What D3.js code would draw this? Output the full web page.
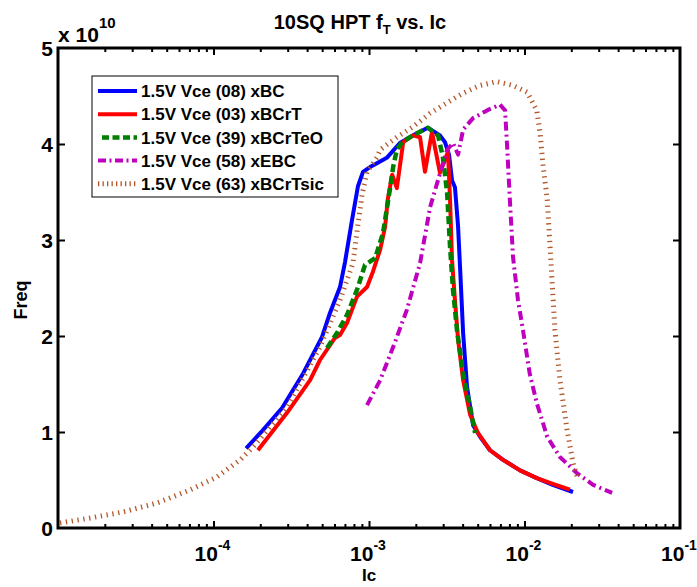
<!DOCTYPE html>
<html><head><meta charset="utf-8">
<script src="https://cdn.jsdelivr.net/npm/d3@7"></script>
<style>
body{margin:0;background:#fff}
svg text{font-family:"Liberation Sans",Arial,Helvetica,sans-serif;font-weight:bold;fill:#000}
</style>
</head><body>
<svg id="chart" width="697" height="587"></svg>
<script>
// ---- data (Ic in A, freq in units of 1e10 Hz) ----
const titleText = "10SQ HPT f";
const legendLabels = ["1.5V Vce (08) xBC","1.5V Vce (03) xBCrT","1.5V Vce (39) xBCrTeO","1.5V Vce (58) xEBC","1.5V Vce (63) xBCrTsic"];
const yTicks = [0,1,2,3,4,5];
const xTickExps = [-4,-3,-2,-1];

const icBC = [1.62e-4,2.08e-4,2.76e-4,3.77e-4,4.99e-4,5.61e-4,6.51e-4,7.01e-4,7.78e-4,8.49e-4,9.15e-4,1.015e-3,1.125e-3,1.31e-3,1.58e-3,1.92e-3,2.39e-3,2.86e-3,3.08e-3,3.27e-3,3.42e-3,3.57e-3,3.74e-3,3.85e-3,4.03e-3,4.27e-3,4.67e-3,5.18e-3,6.0e-3,7.28e-3,9.36e-3,1.2e-2,1.52e-2,2.05e-2];
const fBC  = [0.83,1.02,1.25,1.61,1.99,2.24,2.51,2.77,3.21,3.56,3.71,3.76,3.80,3.86,4.01,4.09,4.17,4.09,4.02,3.89,3.62,3.55,3.14,2.72,2.03,1.47,1.07,0.95,0.81,0.71,0.60,0.52,0.45,0.375];

const icBCrT = [1.93e-4,2.97e-4,4.18e-4,4.84e-4,6.04e-4,6.51e-4,7.22e-4,8.37e-4,9.71e-4,1.06e-3,1.18e-3,1.27e-3,1.32e-3,1.41e-3,1.51e-3,1.66e-3,1.92e-3,2.13e-3,2.29e-3,2.54e-3,2.86e-3,3.22e-3,3.32e-3,3.42e-3,3.57e-3,3.74e-3,4.03e-3,4.47e-3,5.02e-3,6.0e-3,7.28e-3,9.36e-3,1.2e-2,1.52e-2,1.96e-2];
const fBCrT  = [0.81,1.20,1.54,1.75,1.98,2.01,2.135,2.41,2.51,2.67,2.90,3.14,3.42,3.68,3.54,4.02,4.09,4.07,3.71,4.125,3.70,3.92,3.42,2.79,2.375,1.96,1.54,1.18,0.99,0.81,0.71,0.60,0.52,0.46,0.40];

const icBCrTeO = [5.37e-4,6.22e-4,7.22e-4,8.37e-4,9.42e-4,1.094e-3,1.23e-3,1.36e-3,1.43e-3,1.51e-3,1.63e-3,1.92e-3,2.39e-3,2.78e-3,2.99e-3,3.18e-3,3.32e-3,3.47e-3,3.68e-3,4.03e-3,4.47e-3,4.81e-3];
const fBCrTeO  = [1.875,2.03,2.22,2.48,2.74,2.81,3.07,3.52,3.76,3.94,4.02,4.09,4.17,4.09,3.86,3.49,2.93,2.48,2.06,1.61,1.26,0.99];

const icEBC = [9.71e-4,1.18e-3,1.43e-3,1.75e-3,2.13e-3,2.47e-3,2.74e-3,3.18e-3,3.47e-3,3.74e-3,4.03e-3,4.67e-3,5.74e-3,6.95e-3,7.5e-3,7.71e-3,8.07e-3,8.44e-3,9.08e-3,9.78e-3,1.08e-2,1.2e-2,1.4e-2,1.69e-2,2.18e-2,2.76e-2,3.66e-2];
const fEBC  = [1.28,1.54,1.885,2.27,2.76,3.34,3.59,3.94,4.01,3.89,4.15,4.27,4.35,4.41,4.35,4.01,3.39,2.82,2.375,2.06,1.61,1.30,0.95,0.74,0.57,0.45,0.365];

const icBCrTsic = [1.03e-5,1.61e-5,2.62e-5,4.33e-5,7.06e-5,1.05e-4,1.48e-4,1.8e-4,2.97e-4,4.84e-4,6.51e-4,7.89e-4,8.49e-4,9.02e-4,9.71e-4,1.125e-3,1.18e-3,1.51e-3,1.92e-3,2.47e-3,3.18e-3,4.03e-3,5.18e-3,6.65e-3,8.44e-3,1.04e-2,1.2e-2,1.26e-2,1.32e-2,1.4e-2,1.46e-2,1.57e-2,1.69e-2,1.88e-2,2.05e-2,2.21e-2];
const fBCrTsic  = [0.052,0.104,0.167,0.26,0.396,0.531,0.708,0.844,1.26,1.885,2.375,2.76,3.16,3.47,3.71,3.86,3.94,4.07,4.18,4.32,4.43,4.53,4.61,4.65,4.61,4.54,4.35,4.11,3.76,3.42,2.93,2.06,1.54,1.02,0.68,0.50];

// ---- layout / style ----
const X0 = 58, X1 = 680, Y0 = 48, Y1 = 528;
const svg = d3.select("#chart");
const x = d3.scaleLog().domain([1e-5, 1e-1]).range([X0, X1]);
const y = d3.scaleLinear().domain([0, 5]).range([Y1, Y0]);

const styles = [
  {c:"#0000ff", w:4, dash:null, ldash:null},
  {c:"#ff0000", w:4, dash:null, ldash:null},
  {c:"#008000", w:4.5, dash:"8,4", ldash:"7,3.5"},
  {c:"#bf00bf", w:4, dash:"9,4,2,4", ldash:"8,3.5,2,3.5"},
  {c:"#b3572a", w:5, dash:"1.3,4.6", ldash:"1.3,3.2"}
];
const series = [
  d3.zip(icBC, fBC), d3.zip(icBCrT, fBCrT), d3.zip(icBCrTeO, fBCrTeO),
  d3.zip(icEBC, fEBC), d3.zip(icBCrTsic, fBCrTsic)
];

svg.append("defs").append("clipPath").attr("id","clip")
  .append("rect").attr("x",X0).attr("y",Y0).attr("width",X1-X0).attr("height",Y1-Y0);

const line = d3.line().x(d => x(d[0])).y(d => y(d[1]));
const plot = svg.append("g").attr("clip-path","url(#clip)");
series.forEach((s,i) => {
  const st = styles[i];
  plot.append("path").datum(s).attr("d", line)
    .attr("fill","none").attr("stroke", st.c).attr("stroke-width", st.w)
    .attr("stroke-linejoin","round")
    .attr("stroke-dasharray", st.dash);
});

// ---- axes (inward ticks, all four sides) ----
const majorX = xTickExps.map(e => Math.pow(10, e)).filter(v => v < 1e-1);
const minorX = [];
[-5,-4,-3,-2].forEach(e => { for (let k = 2; k <= 9; k++) minorX.push(k * Math.pow(10, e)); });

function styleAxis(g){ g.select(".domain").remove(); g.selectAll("line").attr("stroke","#000").attr("stroke-width",2); }

svg.append("g").attr("transform",`translate(0,${Y1})`)
  .call(d3.axisBottom(x).tickValues(majorX).tickSize(-7).tickFormat("")).call(styleAxis);
svg.append("g").attr("transform",`translate(0,${Y1})`)
  .call(d3.axisBottom(x).tickValues(minorX).tickSize(-4).tickFormat("")).call(styleAxis);
svg.append("g").attr("transform",`translate(0,${Y0})`)
  .call(d3.axisTop(x).tickValues(majorX).tickSize(-7).tickFormat("")).call(styleAxis);
svg.append("g").attr("transform",`translate(0,${Y0})`)
  .call(d3.axisTop(x).tickValues(minorX).tickSize(-4).tickFormat("")).call(styleAxis);
svg.append("g").attr("transform",`translate(${X0},0)`)
  .call(d3.axisLeft(y).tickValues(yTicks.slice(1,-1)).tickSize(-7).tickFormat("")).call(styleAxis);
svg.append("g").attr("transform",`translate(${X1},0)`)
  .call(d3.axisRight(y).tickValues(yTicks.slice(1,-1)).tickSize(-7).tickFormat("")).call(styleAxis);

svg.append("rect").attr("x",X0).attr("y",Y0).attr("width",X1-X0).attr("height",Y1-Y0)
  .attr("fill","none").attr("stroke","#000").attr("stroke-width",3);

// y tick labels
svg.append("g").selectAll("text").data(yTicks).join("text")
  .attr("x", X0 - 5).attr("y", d => y(d)).attr("dy","0.36em")
  .attr("text-anchor","end").attr("font-size",21).text(d => d);

// x tick labels: 10^e
const xl = svg.append("g").selectAll("text").data(xTickExps).join("text")
  .attr("x", d => x(Math.pow(10,d)) - 1).attr("y", 561)
  .attr("text-anchor","middle").attr("font-size",21);
xl.append("tspan").text("10");
xl.append("tspan").attr("dy",-11).attr("font-size",14).text(d => String(d));

// multiplier
const mult = svg.append("text").attr("x", 58).attr("y", 42).attr("font-size",21);
mult.append("tspan").text("x 10");
mult.append("tspan").attr("dy",-14).attr("font-size",15).text("10");

// title
const t = svg.append("text").attr("x", 360).attr("y", 29).attr("text-anchor","middle").attr("font-size",20);
t.append("tspan").text(titleText);
t.append("tspan").attr("dy",5).attr("font-size",13).text("T");
t.append("tspan").attr("dy",-5).text(" vs. Ic");

// axis labels
svg.append("text").attr("x", 369).attr("y", 581).attr("text-anchor","middle").attr("font-size",17).text("Ic");
svg.append("text").attr("transform","translate(27,300) rotate(-90)").attr("text-anchor","middle").attr("font-size",18).text("Freq");

// legend
const lg = svg.append("g");
lg.append("rect").attr("x",92).attr("y",76).attr("width",246).attr("height",121)
  .attr("fill","#fff").attr("stroke","#000").attr("stroke-width",1);
legendLabels.forEach((lab,i) => {
  const yy = 91 + i*23.2;
  const st = styles[i];
  lg.append("line").attr("x1", i===2?102:98).attr("x2",137).attr("y1",yy).attr("y2",yy)
    .attr("stroke",st.c).attr("stroke-width",st.w).attr("stroke-dasharray",st.ldash);
  lg.append("text").attr("x",141).attr("y",yy).attr("dy","0.36em").attr("font-size",17).text(lab);
});
</script>
</body></html>
